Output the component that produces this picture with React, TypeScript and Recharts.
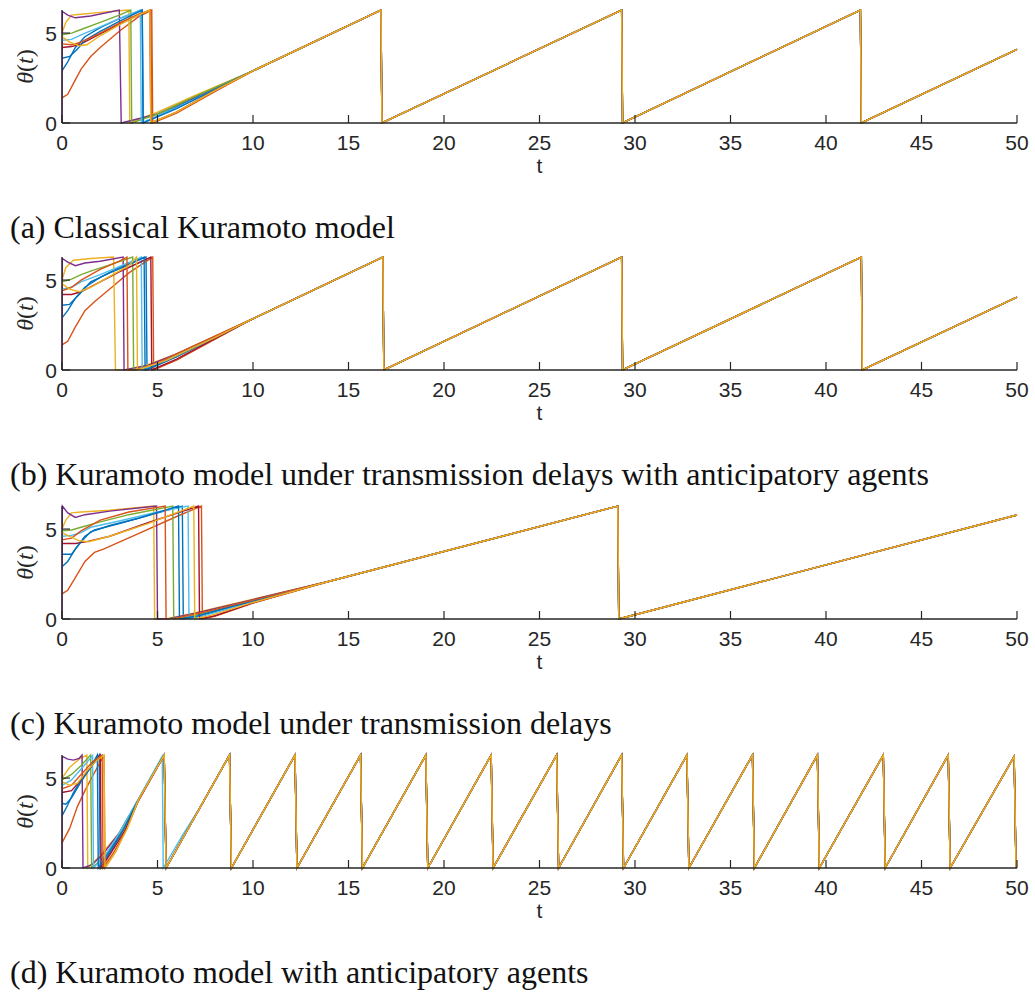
import { LineChart, Line, XAxis, YAxis } from "recharts";

const COLORS = ["#0072BD", "#D95319", "#EDB120", "#7E2F8E", "#77AC30", "#4DBEEE", "#A2142F", "#0072BD", "#D95319", "#EDB120"];
const X_TICKS = [0, 5, 10, 15, 20, 25, 30, 35, 40, 45, 50];
const Y_TICKS = [0, 5];
const CAPTIONS = [
  "(a) Classical Kuramoto model",
  "(b) Kuramoto model under transmission delays with anticipatory agents",
  "(c) Kuramoto model under transmission delays",
  "(d) Kuramoto model with anticipatory agents",
];
const AX = "#262626";

// unsynchronised start of every oscillator, [t, theta]
const EARLY_A = [
  [[0, 2.9], [0.3, 3.4], [0.7, 4.2], [1.2, 4.8], [2, 5.3], [3, 5.8], [4.2, 6.28], [4.25, 0], [6, 0.9], [8, 1.9], [10, 2.9]],
  [[0, 1.4], [0.3, 1.6], [0.6, 2.2], [1, 3.0], [1.5, 3.7], [2, 4.2], [3, 5.1], [4, 5.9], [4.7, 6.28], [4.75, 0], [6, 0.55], [8, 1.75], [10, 2.9]],
  [[0, 5.0], [0.2, 5.6], [0.5, 6.0], [1, 6.05], [2, 6.15], [3.5, 6.28], [3.55, 0], [5, 0.6], [7, 1.55], [10, 2.9]],
  [[0, 0], [0.02, 6.2], [0.3, 6.0], [0.7, 5.85], [1.5, 5.95], [3.0, 6.28], [3.1, 0], [5, 0.5], [7, 1.45], [10, 2.9]],
  [[0, 4.9], [0.5, 5.0], [1, 5.2], [2, 5.6], [3, 6.0], [3.6, 6.28], [3.65, 0], [5, 0.5], [7, 1.5], [10, 2.9]],
  [[0, 4.6], [0.5, 4.65], [1, 4.9], [2, 5.35], [3, 5.8], [4.1, 6.28], [4.15, 0], [6, 0.85], [8, 1.85], [10, 2.9]],
  [[0, 4.2], [0.5, 4.25], [1, 4.4], [2, 4.95], [3, 5.5], [4, 6.0], [4.6, 6.28], [4.65, 0], [6, 0.6], [8, 1.8], [10, 2.9]],
  [[0, 3.6], [0.4, 3.7], [0.8, 4.1], [1.2, 4.6], [2, 5.1], [3, 5.65], [4.2, 6.28], [4.25, 0], [6, 0.8], [8, 1.85], [10, 2.9]],
  [[0, 4.4], [0.5, 4.35], [1, 4.5], [2, 5.0], [3, 5.55], [4, 6.05], [4.65, 6.28], [4.7, 0], [6, 0.6], [8, 1.8], [10, 2.9]],
  [[0, 4.8], [0.4, 4.5], [0.9, 4.3], [1.3, 4.35], [2, 4.85], [3, 5.45], [4, 6.0], [4.6, 6.28], [4.65, 0], [6, 0.6], [8, 1.8], [10, 2.9]],
];
const SYNC_A = [[10, 2.9], [16.7, 6.28], [16.75, 0], [29.3, 6.28], [29.35, 0], [41.8, 6.28], [41.85, 0], [50, 4.1]];

const EARLY_B = [
  [[0, 2.9], [0.3, 3.3], [0.7, 4.0], [1.2, 4.6], [2, 5.15], [3, 5.7], [4.4, 6.28], [4.45, 0], [6, 0.75], [8, 1.8], [10, 2.85]],
  [[0, 1.4], [0.3, 1.6], [0.7, 2.4], [1.2, 3.3], [1.7, 3.8], [2.5, 4.5], [3.5, 5.4], [4.75, 6.28], [4.8, 0], [6, 0.55], [8, 1.7], [10, 2.85]],
  [[0, 5.0], [0.2, 5.7], [0.6, 6.1], [1.5, 6.2], [2.7, 6.28], [2.8, 0], [3.3, 0], [4.5, 0.3], [6, 0.9], [8, 1.85], [10, 2.85]],
  [[0, 0], [0.02, 6.2], [0.3, 6.0], [0.7, 5.8], [1.2, 5.95], [2, 6.05], [3.2, 6.28], [3.25, 0], [4.5, 0.25], [6, 0.9], [8, 1.85], [10, 2.85]],
  [[0, 4.9], [0.5, 5.05], [1, 5.3], [1.5, 5.5], [2.5, 5.85], [3.7, 6.28], [3.75, 0], [5, 0.35], [7, 1.35], [10, 2.85]],
  [[0, 4.5], [0.5, 4.6], [1, 4.9], [2, 5.3], [3, 5.75], [4.15, 6.28], [4.2, 0], [6, 0.8], [8, 1.8], [10, 2.85]],
  [[0, 4.2], [0.5, 4.2], [1, 4.35], [2, 4.9], [3, 5.45], [4.0, 5.95], [4.65, 6.28], [4.7, 0], [6, 0.6], [8, 1.75], [10, 2.85]],
  [[0, 3.6], [0.4, 3.65], [0.9, 4.2], [1.5, 4.9], [2.5, 5.4], [3.5, 5.85], [4.3, 6.28], [4.35, 0], [6, 0.75], [8, 1.8], [10, 2.85]],
  [[0, 4.4], [0.5, 4.6], [1, 5.0], [2, 5.6], [3, 6.05], [3.4, 6.28], [3.45, 0], [3.9, 0], [5, 0.4], [7, 1.4], [10, 2.85]],
  [[0, 4.8], [0.4, 4.5], [0.9, 4.35], [1.5, 4.6], [2.5, 5.2], [3.5, 5.8], [3.9, 6.28], [3.95, 0], [5.5, 0.55], [8, 1.8], [10, 2.85]],
];
const SYNC_B = [[10, 2.85], [16.8, 6.28], [16.85, 0], [29.3, 6.28], [29.35, 0], [41.85, 6.28], [41.9, 0], [50, 4.05]];

const EARLY_C = [
  [[0, 2.9], [0.3, 3.2], [0.7, 3.9], [1.2, 4.6], [1.7, 4.95], [3, 5.3], [4.5, 5.75], [6.3, 6.28], [6.35, 0], [7, 0.12], [8.5, 0.55], [10, 0.98], [14, 2.1]],
  [[0, 1.4], [0.3, 1.6], [0.7, 2.3], [1.2, 3.2], [1.7, 3.7], [2.2, 3.9], [4, 4.75], [6, 5.7], [7.3, 6.28], [7.35, 0], [8, 0.15], [10, 0.88], [14, 2.1]],
  [[0, 5.0], [0.2, 5.5], [0.5, 5.9], [1, 5.95], [2.5, 6.05], [4.8, 6.28], [4.85, 0], [5.5, 0.02], [7, 0.35], [10, 1.1], [14, 2.1]],
  [[0, 0], [0.02, 6.28], [0.3, 5.9], [0.7, 5.65], [1.2, 5.8], [2.5, 6.0], [4.95, 6.28], [5, 0], [5.6, 0.02], [7, 0.33], [10, 1.08], [14, 2.1]],
  [[0, 4.9], [0.5, 4.95], [1, 5.1], [2, 5.4], [3.5, 5.8], [5.8, 6.28], [5.85, 0], [6.5, 0.1], [8, 0.5], [10, 1.02], [14, 2.1]],
  [[0, 4.6], [0.5, 4.65], [1, 4.8], [1.5, 5.1], [3, 5.45], [5, 5.95], [6.6, 6.28], [6.65, 0], [7.5, 0.2], [10, 0.95], [14, 2.1]],
  [[0, 4.2], [0.7, 4.2], [1.3, 4.3], [2.5, 4.6], [4.5, 5.35], [6.5, 6.05], [7.15, 6.28], [7.2, 0], [8, 0.18], [10, 0.9], [14, 2.1]],
  [[0, 3.6], [0.5, 3.6], [1, 4.3], [1.5, 4.85], [2.5, 5.2], [4, 5.6], [6.1, 6.28], [6.15, 0], [7, 0.15], [8.5, 0.6], [10, 1.0], [14, 2.1]],
  [[0, 4.4], [0.5, 4.5], [1, 4.9], [2, 5.5], [3.5, 5.95], [5.4, 6.28], [5.45, 0], [6, 0.05], [7.5, 0.4], [10, 1.05], [14, 2.1]],
  [[0, 4.8], [0.4, 4.6], [0.9, 4.35], [1.4, 4.3], [2.5, 4.6], [4.5, 5.3], [6.9, 6.28], [6.95, 0], [7.8, 0.2], [10, 0.92], [14, 2.1]],
];
const SYNC_C = [[14, 2.1], [29.1, 6.28], [29.15, 0], [50, 5.78]];

const EARLY_D = [
  [[0, 2.9], [0.3, 3.5], [0.6, 4.2], [1, 4.9], [1.5, 5.6], [1.95, 6.28], [2.0, 0], [2.6, 1.0], [3.3, 2.3], [4, 3.78]],
  [[0, 1.4], [0.4, 2.2], [0.8, 3.4], [1.2, 4.3], [1.7, 5.3], [2.2, 6.28], [2.25, 0], [2.8, 0.9], [3.4, 2.25], [4, 3.75]],
  [[0, 5.0], [0.4, 5.6], [0.9, 6.05], [1.3, 6.28], [1.35, 0], [2, 0.7], [3, 1.95], [4, 3.8]],
  [[0, 0], [0.02, 6.2], [0.3, 6.05], [0.6, 6.0], [0.9, 6.1], [1.05, 6.28], [1.1, 0], [1.6, 0.2], [2.2, 0.85], [3, 1.95], [4, 3.8]],
  [[0, 4.9], [0.5, 5.2], [1, 5.7], [1.5, 6.28], [1.55, 0], [2.2, 0.6], [3, 1.85], [4, 3.8]],
  [[0, 4.6], [0.5, 4.9], [1, 5.5], [1.6, 6.25], [1.65, 0], [2.3, 0.75], [3, 1.95], [4, 3.85], [5.25, 6.22], [5.3, 0], [6.3, 1.8], [7.5, 3.85]],
  [[0, 4.2], [0.5, 4.3], [1, 4.9], [1.5, 5.6], [2.0, 6.28], [2.05, 0], [2.6, 0.9], [3.3, 2.1], [4, 3.75]],
  [[0, 3.6], [0.2, 3.55], [0.5, 3.9], [1, 4.8], [1.5, 5.6], [1.85, 6.28], [1.9, 0], [2.5, 0.95], [3.2, 2.1], [4, 3.8]],
  [[0, 4.4], [0.5, 4.6], [1, 5.2], [1.6, 5.9], [2.1, 6.28], [2.15, 0], [2.7, 0.85], [3.4, 2.2], [4, 3.75]],
  [[0, 4.8], [0.4, 4.6], [0.8, 4.7], [1.3, 5.4], [1.8, 5.95], [2.2, 6.28], [2.25, 0], [2.8, 0.9], [3.4, 2.15], [4, 3.8]],
];
const SYNC_D = [
  [4, 3.8], [5.35, 6.28], [5.45, 0], [8.77, 6.28], [8.87, 0], [12.2, 6.28], [12.3, 0], [15.63, 6.28], [15.73, 0],
  [19.05, 6.28], [19.15, 0], [22.47, 6.28], [22.57, 0], [25.9, 6.28], [26.0, 0], [29.3, 6.28], [29.4, 0],
  [32.72, 6.28], [32.82, 0], [36.15, 6.28], [36.25, 0], [39.55, 6.28], [39.65, 0], [43.0, 6.28], [43.1, 0],
  [46.4, 6.28], [46.5, 0], [49.85, 6.2], [49.95, 0],
];

const PANELS = [
  { early: EARLY_A, sync: SYNC_A, top: 10 },
  { early: EARLY_B, sync: SYNC_B, top: 257 },
  { early: EARLY_C, sync: SYNC_C, top: 506 },
  { early: EARLY_D, sync: SYNC_D, top: 755 },
];
const PLOT_H = 113;

const XTick = (props: any) => {
  const { x, y, payload } = props;
  return (
    <g>
      <line x1={x} y1={y} x2={x} y2={y - 8} stroke={AX} strokeWidth={1.2} />
      <text x={x} y={y + 27} textAnchor="middle" fontSize={21} fontFamily="Liberation Sans, Arial, sans-serif" fill={AX}>
        {payload.value}
      </text>
    </g>
  );
};

const YTick = (props: any) => {
  const { x, y, payload } = props;
  return (
    <g>
      <line x1={x} y1={y} x2={x + 8} y2={y} stroke={AX} strokeWidth={1.2} />
      <text x={x - 5} y={y + 7.5} textAnchor="end" fontSize={21} fontFamily="Liberation Sans, Arial, sans-serif" fill={AX}>
        {payload.value}
      </text>
    </g>
  );
};

function Panel({ early, sync, top }: { early: number[][][]; sync: number[][]; top: number }) {
  const traces = early.map((seg) => {
    const last = seg[seg.length - 1][0];
    return [...seg, ...sync.filter((p) => p[0] > last)].map(([x, y]) => ({ x, y }));
  });

  return (
    <div style={{ position: "absolute", left: 0, top: top - 10 }}>
      <LineChart width={1035} height={10 + PLOT_H + 37} margin={{ top: 10, right: 18, bottom: 7, left: 2 }}>
        <XAxis
          dataKey="x"
          type="number"
          domain={[0, 50]}
          ticks={X_TICKS}
          interval={0}
          height={30}
          tickSize={0}
          tickMargin={0}
          tickLine={false}
          axisLine={{ stroke: AX, strokeWidth: 1.3 }}
          tick={(p: any) => <XTick {...p} />}
        />
        <YAxis
          type="number"
          domain={[0, 6.2832]}
          ticks={Y_TICKS}
          interval={0}
          width={60}
          tickSize={0}
          tickMargin={0}
          tickLine={false}
          axisLine={{ stroke: AX, strokeWidth: 1.3 }}
          tick={(p: any) => <YTick {...p} />}
        />
        {traces.map((d, i) => (
          <Line
            key={i}
            data={d}
            dataKey="y"
            type="linear"
            stroke={COLORS[i]}
            strokeWidth={1.4}
            dot={false}
            isAnimationActive={false}
          />
        ))}
      </LineChart>
    </div>
  );
}

export default function App() {
  return (
    <div style={{ position: "absolute", left: 0, top: 0, width: 1035, height: 992, background: "#fff" }}>
      {PANELS.map((p, i) => (
        <Panel key={i} early={p.early} sync={p.sync} top={p.top} />
      ))}
      <svg width={1035} height={992} style={{ position: "absolute", left: 0, top: 0, pointerEvents: "none" }}>
        {PANELS.map((p, i) => {
          const bottom = p.top + PLOT_H;
          const mid = p.top + PLOT_H / 2;
          return (
            <g key={i}>
              <text
                transform={`translate(33, ${mid}) rotate(-90)`}
                textAnchor="middle"
                fontSize={24}
                fontFamily="Liberation Serif, serif"
                fill={AX}
              >
                <tspan fontStyle="italic">θ</tspan>
                <tspan>(</tspan>
                <tspan fontStyle="italic">t</tspan>
                <tspan>)</tspan>
              </text>
              <text x={539.5} y={bottom + 50} textAnchor="middle" fontSize={21} fontFamily="Liberation Sans, Arial, sans-serif" fill={AX}>
                t
              </text>
              <text x={10} y={bottom + 115} fontSize={32} fontFamily="Liberation Serif, serif" fill="#111">
                {CAPTIONS[i]}
              </text>
            </g>
          );
        })}
      </svg>
    </div>
  );
}
